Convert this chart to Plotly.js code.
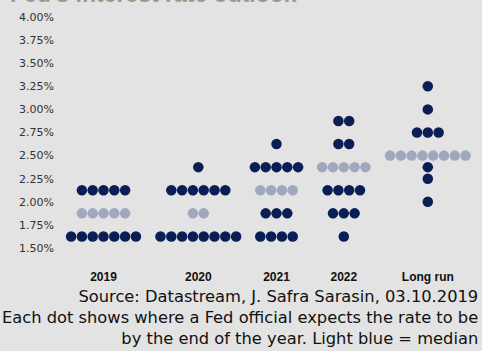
<!DOCTYPE html>
<html>
<head>
<meta charset="utf-8">
<script src="https://cdn.plot.ly/plotly-3.0.1.min.js"></script>
<style>html,body{margin:0;padding:0;background:#e2e3e2;}#chart{width:482px;height:351px;}</style>
</head>
<body>
<div id="chart"></div>
<script>
// ---- Data ----
const categories = ['2019', '2020', '2021', '2022', 'Long run'];
const levels2019 = [1.625, 1.875, 2.125];
const counts2019 = [7, 5, 5];
const levels2020 = [1.625, 1.875, 2.125, 2.375];
const counts2020 = [8, 2, 6, 1];
const levels2021 = [1.625, 1.875, 2.125, 2.375, 2.625];
const counts2021 = [4, 3, 4, 5, 1];
const levels2022 = [1.625, 1.875, 2.125, 2.375, 2.625, 2.875];
const counts2022 = [1, 3, 4, 5, 2, 2];
const levelsLongRun = [2.0, 2.25, 2.375, 2.5, 2.75, 3.0, 3.25];
const countsLongRun = [1, 1, 1, 8, 3, 1, 1];
const medians = [1.875, 1.875, 2.125, 2.375, 2.5];

const titleText = "Fed's interest rate outlook";
const sourceLines = [
  'Source: Datastream, J. Safra Sarasin, 03.10.2019',
  'Each dot shows where a Fed official expects the rate to be',
  'by the end of the year. Light blue = median'
];

// ---- Layout constants (x axis in page-pixel units) ----
const groupCentre = [103.5, 198.3, 276.5, 343.8, 427.8];
const dotStep = 10.8;
const darkBlue = '#0b1d55';
const lightBlue = '#a0a8c0';
const bg = '#e2e3e2';

const allLevels = [levels2019, levels2020, levels2021, levels2022, levelsLongRun];
const allCounts = [counts2019, counts2020, counts2021, counts2022, countsLongRun];

const dark = {x: [], y: []};
const light = {x: [], y: []};
allLevels.forEach((levels, g) => {
  levels.forEach((lv, k) => {
    const n = allCounts[g][k];
    const target = (lv === medians[g]) ? light : dark;
    for (let i = 0; i < n; i++) {
      target.x.push(groupCentre[g] + (i - (n - 1) / 2) * dotStep);
      target.y.push(lv);
    }
  });
});

const traces = [
  {x: dark.x, y: dark.y, type: 'scatter', mode: 'markers', name: 'Fed official',
   marker: {color: darkBlue, size: 10.5, line: {width: 0}}, hoverinfo: 'y'},
  {x: light.x, y: light.y, type: 'scatter', mode: 'markers', name: 'Median',
   marker: {color: lightBlue, size: 10.5, line: {width: 0}}, hoverinfo: 'y'}
];

const layout = {
  width: 482, height: 351,
  paper_bgcolor: bg, plot_bgcolor: bg,
  margin: {l: 55, r: 0, t: 10, b: 91},
  showlegend: false,
  font: {family: 'DejaVu Sans, sans-serif', color: '#333'},
  xaxis: {
    range: [55, 482], showgrid: false, zeroline: false, showline: false,
    ticks: '', tickmode: 'array', tickvals: groupCentre, ticktext: categories,
    tickfont: {family: 'Liberation Sans, Arial, sans-serif', size: 12, weight: 'bold', color: '#111'},
    ticklabelstandoff: 8, fixedrange: true
  },
  yaxis: {
    range: [1.370, 4.076], showgrid: false, zeroline: false, showline: false,
    ticks: '', tick0: 1.5, dtick: 0.25, tickformat: '.2f', ticksuffix: '%',
    tickfont: {family: 'DejaVu Sans, sans-serif', size: 11, color: '#333'},
    fixedrange: true
  },
  annotations: [
    {text: '<b>' + titleText + '</b>', xref: 'paper', yref: 'paper',
     x: -0.11, y: 1.004, xanchor: 'left', yanchor: 'bottom', showarrow: false,
     font: {family: 'Liberation Sans, Arial, sans-serif', size: 23, color: '#a1978b'}},
    {text: sourceLines.join('<br>'), xref: 'paper', yref: 'paper',
     x: (480 - 55) / 427, y: -0.228, xanchor: 'right', yanchor: 'middle', align: 'right',
     showarrow: false,
     font: {family: 'DejaVu Sans, sans-serif', size: 16.3, color: '#111'}}
  ]
};

Plotly.newPlot('chart', traces, layout, {displayModeBar: false, staticPlot: true});
</script>
</body>
</html>
